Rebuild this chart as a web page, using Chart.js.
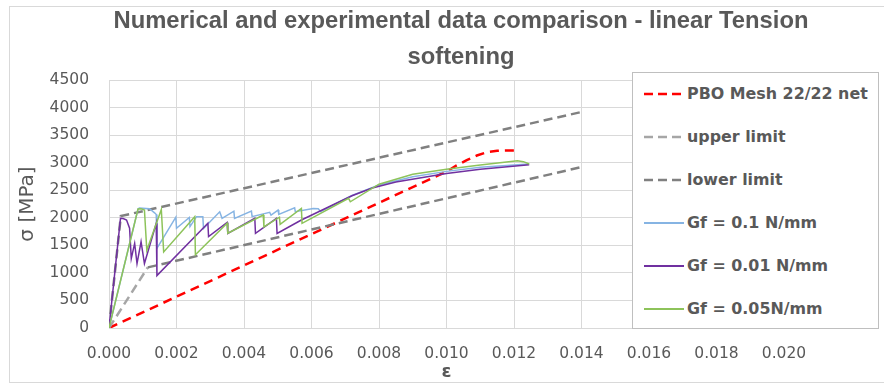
<!DOCTYPE html>
<html>
<head>
<meta charset="utf-8">
<script src="https://cdn.jsdelivr.net/npm/chart.js@4.4.1/dist/chart.umd.min.js"></script>
<style>
  html, body { margin: 0; padding: 0; background: #ffffff; }
  #wrap { position: relative; width: 884px; height: 386px; overflow: hidden; background: #fff; }
  #frame { position: absolute; left: 9px; top: 6px; width: 900px; height: 377px; border: 1px solid #d9d9d9; box-sizing: border-box; }
  #chart { position: absolute; left: 0; top: 0; }
  #title { position: absolute; left: 0; top: 2px; width: 922px; text-align: center; font-family: "Liberation Sans", Arial, sans-serif; font-weight: bold; font-size: 24px; line-height: 36px; color: #595959; white-space: nowrap; }
  #title span { display: inline-block; }
  #legend { position: absolute; left: 632px; top: 72px; width: 247px; height: 257px; border: 1px solid #bfbfbf; box-sizing: border-box; background: #fff; font-family: "DejaVu Sans", sans-serif; font-weight: bold; color: #595959; }
  .row { position: absolute; left: 0; height: 24px; width: 100%; }
  .row svg { position: absolute; left: 11px; top: 4px; }
  .row span { position: absolute; left: 54px; top: 0; line-height: 24px; white-space: nowrap; }
</style>
</head>
<body>
<div id="wrap">
  <div id="frame"></div>
  <canvas id="chart" width="884" height="386"></canvas>
  <div id="title"><span id="t1">Numerical and experimental data comparison - linear Tension</span><br><span id="t2">softening</span></div>
  <div id="legend"></div>
</div>
<script>
// ---- data ----
const xTickValues = [0, 0.002, 0.004, 0.006, 0.008, 0.010, 0.012, 0.014, 0.016, 0.018, 0.020];
const yTickValues = [0, 500, 1000, 1500, 2000, 2500, 3000, 3500, 4000, 4500];

const seriesNames = ["PBO Mesh 22/22 net", "upper limit", "lower limit", "Gf = 0.1 N/mm", "Gf = 0.01 N/mm", "Gf = 0.05N/mm"];

const pboEps = [0, 0.0100, 0.0103, 0.0106, 0.0109, 0.0112, 0.0115, 0.0118, 0.0120];
const pboSig = [0, 2840, 2950, 3045, 3130, 3190, 3215, 3220, 3220];

const upperEps = [0, 0.00115];
const upperSig = [0, 1100];

const lowerEps = [0, 0.00035, 0.014, 0.014, 0.00115, 0.014];
const lowerSig = [0, 2030, 3920, null, 1100, 2920];

const gf01Eps = [0, 0.00086, 0.0009, 0.0012, 0.00135, 0.0014, 0.00142, 0.00198, 0.0020, 0.00238, 0.0024, 0.00259, 0.00278, 0.0028, 0.00328, 0.00335, 0.0037, 0.00372, 0.00422, 0.00424, 0.00476, 0.0048, 0.00501, 0.00503, 0.0055, 0.00552, 0.00605, 0.0062, 0.00627, 0.0072, 0.0080, 0.0090, 0.0100, 0.0110, 0.01245];
const gf01Sig = [0, 2160, 2175, 2165, 2090, 2060, 1445, 2010, 1810, 2005, 1840, 2018, 2018, 1807, 2109, 1990, 2120, 1990, 2122, 2020, 2100, 2050, 2140, 2060, 2180, 2110, 2170, 2165, 2115, 2405, 2595, 2745, 2842, 2915, 2975];

const gf001Eps = [0, 0.00034, 0.00042, 0.00052, 0.00061, 0.00066, 0.00076, 0.00083, 0.00095, 0.00105, 0.0014, 0.00142, 0.00293, 0.00295, 0.0035, 0.00352, 0.00432, 0.00434, 0.00496, 0.00498, 0.0057, 0.0072, 0.0078, 0.0085, 0.0100, 0.0110, 0.01245];
const gf001Sig = [0, 1990, 1985, 1960, 1810, 1260, 1535, 1170, 1565, 1170, 1900, 950, 1900, 1660, 1915, 1716, 1990, 1716, 1990, 1716, 1960, 2400, 2540, 2650, 2805, 2880, 2960];

const gf005Eps = [0, 0.00086, 0.00095, 0.00105, 0.00112, 0.00155, 0.00162, 0.00254, 0.00256, 0.0035, 0.00352, 0.00457, 0.00459, 0.00505, 0.00507, 0.0057, 0.00572, 0.0071, 0.00715, 0.0080, 0.0090, 0.0100, 0.0110, 0.0121, 0.01228, 0.01245];
const gf005Sig = [0, 2160, 2165, 2140, 1410, 2150, 1380, 2020, 1330, 1900, 1720, 2050, 1836, 2010, 1880, 2170, 1900, 2353, 2290, 2610, 2790, 2880, 2958, 3036, 3018, 2976];

// ---- styles ----
const GRID = '#d9d9d9';
const TEXT = '#595959';
const styles = [
  { color: '#ff0000', width: 2.5, dash: [9, 6], order: 6 },
  { color: '#a6a6a6', width: 2.5, dash: [9, 5], order: 5 },
  { color: '#808080', width: 2.5, dash: [9, 5], order: 4 },
  { color: '#86b4e3', width: 1.5, dash: [], order: 3 },
  { color: '#7030a0', width: 1.5, dash: [], order: 2 },
  { color: '#8dc35a', width: 1.5, dash: [], order: 1 }
];
const pairs = [[pboEps, pboSig], [upperEps, upperSig], [lowerEps, lowerSig], [gf01Eps, gf01Sig], [gf001Eps, gf001Sig], [gf005Eps, gf005Sig]];

const datasets = pairs.map((p, i) => ({
  label: seriesNames[i],
  data: p[0].map((x, j) => ({ x: x, y: p[1][j] })),
  showLine: true,
  borderColor: styles[i].color,
  backgroundColor: styles[i].color,
  borderWidth: styles[i].width,
  borderDash: styles[i].dash,
  borderCapStyle: 'butt',
  pointRadius: 0,
  pointHoverRadius: 0,
  tension: 0,
  fill: false,
  spanGaps: false,
  order: styles[i].order
}));

const tickFont = { family: 'DejaVu Sans', size: 15.5 };

const chart = new Chart(document.getElementById('chart'), {
  type: 'scatter',
  data: { datasets: datasets },
  options: {
    responsive: false,
    animation: false,
    devicePixelRatio: 1,
    layout: { padding: { left: 0, right: 100, top: 80, bottom: 0 } },
    plugins: { legend: { display: false }, tooltip: { enabled: false }, title: { display: false } },
    scales: {
      x: {
        type: 'linear', min: 0, max: 0.02,
        afterBuildTicks: s => { s.ticks = xTickValues.map(v => ({ value: v })); },
        afterFit: s => { s.height = 58; },
        ticks: { callback: v => Number(v).toFixed(3), font: tickFont, color: TEXT, padding: 17, maxRotation: 0, autoSkip: false },
        grid: { color: GRID, lineWidth: 1, drawTicks: false },
        border: { color: GRID },
        title: { display: true, text: 'ε', color: TEXT, font: { family: 'DejaVu Sans', size: 18, weight: 'bold' }, padding: { top: 0, bottom: 3 } }
      },
      y: {
        type: 'linear', min: 0, max: 4500,
        afterBuildTicks: s => { s.ticks = yTickValues.map(v => ({ value: v })); },
        afterFit: s => { s.width = 109; },
        ticks: { callback: v => String(v), font: tickFont, color: TEXT, padding: 20, autoSkip: false },
        grid: { color: GRID, lineWidth: 1, drawTicks: false },
        border: { color: GRID },
        title: { display: true, text: 'σ [MPa]', color: TEXT, font: { family: 'DejaVu Sans', size: 20 }, padding: { top: 16, bottom: 0 } }
      }
    }
  }
});

// ---- title fit ----
(function () {
  const t1 = document.getElementById('t1');
  const w = t1.getBoundingClientRect().width;
  const k = 695 / w;
  const title = document.getElementById('title');
  title.style.transformOrigin = '461px 0';
  title.style.transform = 'scaleX(' + k + ')';
})();

// ---- legend built from the chart datasets ----
(function () {
  const leg = document.getElementById('legend');
  const rowCenters = [21, 64, 107, 150, 193, 236];
  chart.data.datasets.forEach((ds, i) => {
    const row = document.createElement('div');
    row.className = 'row';
    row.style.top = (rowCenters[i] - 12) + 'px';
    const dash = ds.borderDash && ds.borderDash.length ? 'stroke-dasharray="9 5"' : '';
    row.innerHTML = '<svg width="40" height="16"><line x1="0" y1="8" x2="40" y2="8" stroke="' + ds.borderColor + '" stroke-width="' + (ds.borderDash.length ? 2.5 : 2) + '" ' + dash + '/></svg>';
    const sp = document.createElement('span');
    sp.textContent = ds.label;
    row.appendChild(sp);
    leg.appendChild(row);
  });
  const spans = leg.querySelectorAll('span');
  spans.forEach(s => s.style.fontSize = '15px');
  const w = spans[0].getBoundingClientRect().width;
  const fs = 15 * 181 / w;
  spans.forEach(s => s.style.fontSize = fs + 'px');
})();
</script>
</body>
</html>
